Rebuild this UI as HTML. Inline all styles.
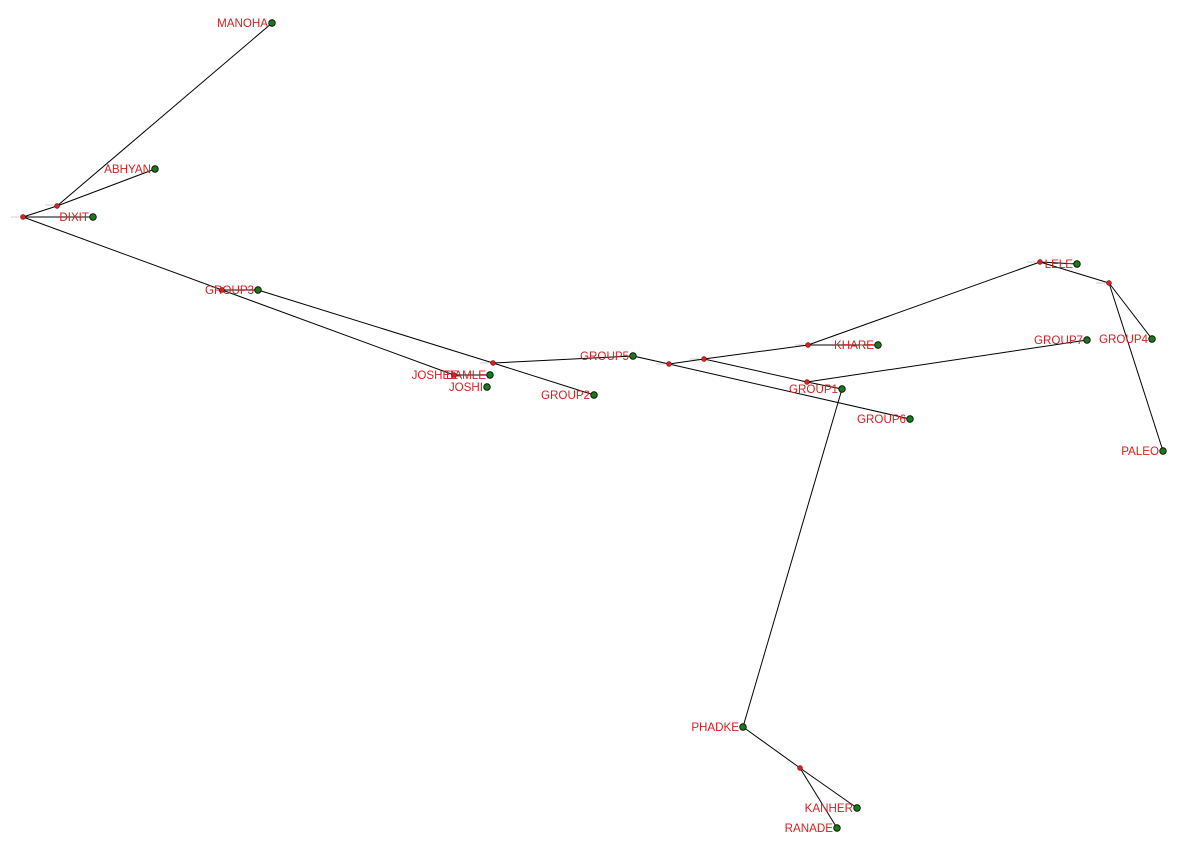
<!DOCTYPE html>
<html><head><meta charset="utf-8"><style>html,body{margin:0;padding:0;background:#fff}svg{display:block}</style></head>
<body>
<svg width="1186" height="845" xmlns="http://www.w3.org/2000/svg" font-family="Liberation Sans, Arial, sans-serif" font-size="11.6">
<g stroke="#ccc" stroke-width="1">
<line x1="11" y1="217" x2="19" y2="217"/><line x1="45" y1="205" x2="53" y2="205"/>
<line x1="480" y1="363" x2="489" y2="363"/><line x1="656" y1="364" x2="665" y2="364"/>
<line x1="690" y1="359" x2="700" y2="359"/><line x1="795" y1="345" x2="804" y2="345"/>
<line x1="1027" y1="262" x2="1036" y2="262"/><line x1="1096" y1="283" x2="1105" y2="283"/>
</g>
<g stroke="#000" stroke-width="1" fill="none">
<line x1="23" y1="217" x2="57" y2="206"/>
<line x1="57" y1="206" x2="272" y2="23"/>
<line x1="57" y1="206" x2="155" y2="169"/>
<line x1="23" y1="217" x2="93" y2="217"/>
<line x1="23" y1="217" x2="454" y2="375"/>
<line x1="222" y1="290" x2="258" y2="290"/>
<line x1="258" y1="290" x2="493" y2="363"/>
<line x1="493" y1="363" x2="594" y2="395"/>
<line x1="493" y1="363" x2="633" y2="356"/>
<line x1="454" y1="375" x2="490" y2="375"/>
<line x1="633" y1="356" x2="669" y2="364"/>
<line x1="669" y1="364" x2="704" y2="359"/>
<line x1="669" y1="364" x2="910" y2="419"/>
<line x1="704" y1="359" x2="808" y2="345"/>
<line x1="704" y1="359" x2="807" y2="382"/>
<line x1="808" y1="345" x2="878" y2="345"/>
<line x1="808" y1="345" x2="1040" y2="262"/>
<line x1="1040" y1="262" x2="1077" y2="264"/>
<line x1="1040" y1="262" x2="1109" y2="283"/>
<line x1="1109" y1="283" x2="1152" y2="339"/>
<line x1="1109" y1="283" x2="1163" y2="451"/>
<line x1="807" y1="382" x2="1087" y2="340"/>
<line x1="807" y1="382" x2="842" y2="389"/>
<line x1="842" y1="389" x2="743" y2="727"/>
<line x1="743" y1="727" x2="800" y2="768"/>
<line x1="800" y1="768" x2="857" y2="808"/>
<line x1="800" y1="768" x2="837" y2="828"/>
</g>
<g fill="#d42020" text-anchor="end">
<text x="268" y="27">MANOHA</text>
<text x="151" y="173">ABHYAN</text>
<text x="89" y="221">DIXIT</text>
<text x="254" y="294">GROUP3</text>
<text x="458" y="379">JOSHEE</text>
<text x="486" y="379">DAMLE</text>
<text x="483" y="391">JOSHI</text>
<text x="590" y="399">GROUP2</text>
<text x="629" y="360">GROUP5</text>
<text x="874" y="349">KHARE</text>
<text x="838" y="393">GROUP1</text>
<text x="906" y="423">GROUP6</text>
<text x="1083" y="344">GROUP7</text>
<text x="1073" y="268">LELE</text>
<text x="1148" y="343">GROUP4</text>
<text x="1159" y="455">PALEO</text>
<text x="739" y="731">PHADKE</text>
<text x="853" y="812">KANHER</text>
<text x="833" y="832">RANADE</text>
</g>
<g fill="#1a7a1a" stroke="#000" stroke-width="0.8">
<circle cx="272" cy="23" r="3.3"/><circle cx="155" cy="169" r="3.3"/><circle cx="93" cy="217" r="3.3"/>
<circle cx="258" cy="290" r="3.3"/><circle cx="490" cy="375" r="3.3"/><circle cx="487" cy="387" r="3.3"/>
<circle cx="594" cy="395" r="3.3"/><circle cx="633" cy="356" r="3.3"/><circle cx="878" cy="345" r="3.3"/>
<circle cx="842" cy="389" r="3.3"/><circle cx="910" cy="419" r="3.3"/><circle cx="1087" cy="340" r="3.3"/>
<circle cx="1077" cy="264" r="3.3"/><circle cx="1152" cy="339" r="3.3"/><circle cx="1163" cy="451" r="3.3"/>
<circle cx="743" cy="727" r="3.3"/><circle cx="857" cy="808" r="3.3"/><circle cx="837" cy="828" r="3.3"/>
</g>
<g fill="#d42020" stroke="#600" stroke-width="0.5">
<circle cx="23" cy="217" r="2.5"/><circle cx="57" cy="206" r="2.5"/><circle cx="222" cy="290" r="2.5"/>
<circle cx="454" cy="375" r="2.5"/><circle cx="493" cy="363" r="2.5"/><circle cx="669" cy="364" r="2.5"/>
<circle cx="704" cy="359" r="2.5"/><circle cx="808" cy="345" r="2.5"/><circle cx="807" cy="382" r="2.5"/>
<circle cx="1040" cy="262" r="2.5"/><circle cx="1109" cy="283" r="2.5"/><circle cx="800" cy="768" r="2.5"/>
</g>
</svg>
</body></html>
